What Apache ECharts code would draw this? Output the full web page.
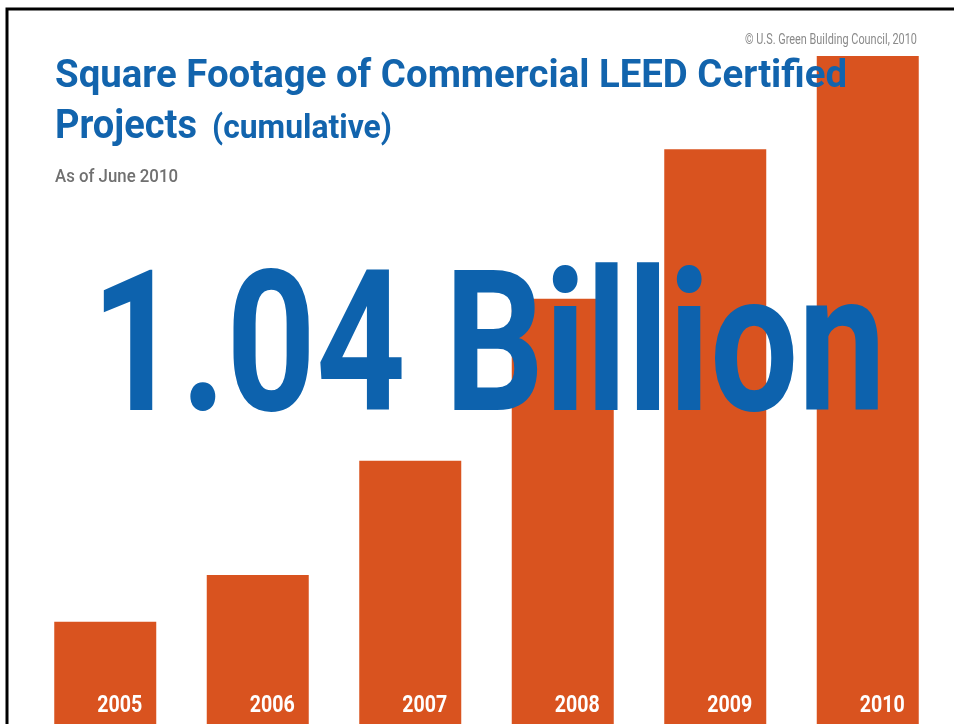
<!DOCTYPE html>
<html>
<head>
<meta charset="utf-8">
<script src="https://cdn.jsdelivr.net/npm/echarts@6/dist/echarts.min.js"></script>
<style>
html,body{margin:0;padding:0;background:#fff;}
#main{width:954px;height:724px;}
</style>
</head>
<body>
<div id="main"></div>
<script>
const years = ['2005', '2006', '2007', '2008', '2009', '2010'];
const sqftMillions = [159, 232, 410, 662, 895, 1040];
const titleLine1 = 'Square Footage of Commercial LEED Certified';
const titleLine2a = 'Projects';
const titleLine2b = '(cumulative)';
const subtitle = 'As of June 2010';
const headline = '1.04 Billion';
const credit = '\u00A9 U.S. Green Building Council, 2010';

const BLUE = '#1264ad';
const ORANGE = '#d9531f';
const FONT = 'Roboto';

const chart = echarts.init(document.getElementById('main'), null, {renderer: 'canvas'});

const mctx = document.createElement('canvas').getContext('2d');
function widthOf(text, size, weight) {
  mctx.font = weight + ' ' + size + 'px ' + FONT;
  return mctx.measureText(text).width;
}
function fitText(text, x, yMid, size, weight, color, targetW, align) {
  const s = targetW / widthOf(text, size, weight);
  return {
    type: 'text', x: x, y: yMid, scaleX: s, z: 100, silent: true,
    style: {
      text: text, x: 0, y: 0, fill: color,
      font: weight + ' ' + size + 'px ' + FONT,
      align: align || 'left', verticalAlign: 'middle'
    }
  };
}

chart.setOption({
  animation: false,
  backgroundColor: '#ffffff',
  grid: {left: 29, right: 10, top: 56, bottom: 0, containLabel: false},
  xAxis: {
    type: 'category', data: years,
    axisLine: {show: false}, axisTick: {show: false}, axisLabel: {show: false}
  },
  yAxis: {
    type: 'value', min: 0, max: 1040,
    axisLine: {show: false}, axisTick: {show: false}, axisLabel: {show: false},
    splitLine: {show: false}
  },
  series: [{
    type: 'bar', data: sqftMillions, barWidth: 102,
    itemStyle: {color: ORANGE}, z: 2
  }]
});

const yearScale = 45 / widthOf('2005', 23, 'bold');
const yearLabels = years.map(function (y) {
  const p = chart.convertToPixel({gridIndex: 0}, [y, 0]);
  return {
    type: 'text', x: p[0] + 37, y: 706, scaleX: yearScale, z: 100, silent: true,
    style: {text: y, x: 0, y: 0, fill: '#ffffff', font: 'bold 23px ' + FONT,
      align: 'right', verticalAlign: 'middle'}
  };
});

chart.setOption({
  graphic: [
    {type: 'rect', z: 100, silent: true,
      shape: {x: 7, y: 9, width: 1200, height: 1200},
      style: {fill: 'none', stroke: '#000', lineWidth: 3}},
    fitText(credit, 917, 40.3, 14, 'normal', '#8a8a8a', 172, 'right'),
    fitText(titleLine1, 55, 77, 38, 'bold', BLUE, 792),
    fitText(titleLine2a, 55, 127.6, 40, 'bold', BLUE, 142),
    fitText(titleLine2b, 212, 129.4, 33, 'bold', BLUE, 180),
    fitText(subtitle, 55, 177, 19, '500', '#707070', 123),
    fitText(headline, 91, 361, 196, 'bold', '#0d62ad', 795)
  ].concat(yearLabels)
});
</script>
</body>
</html>
